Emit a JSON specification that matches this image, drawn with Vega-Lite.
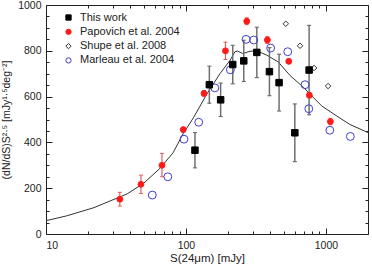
{
  "$schema": "https://vega.github.io/schema/vega-lite/v6.json",
  "width": 322,
  "height": 229,
  "autosize": "none",
  "padding": {"left": 46, "top": 5, "right": 4, "bottom": 30},
  "background": "white",
  "config": {
    "view": {"stroke": "#222", "strokeWidth": 1},
    "font": "Liberation Sans",
    "axis": {"grid": false, "domain": false, "labelColor": "#222", "titleColor": "#222", "tickColor": "#222", "titleFontWeight": "normal", "labelFont": "Liberation Sans", "titleFont": "Liberation Sans"},
    "legend": {"orient": "none", "legendX": 17, "legendY": 7, "title": null, "labelFontSize": 11, "labelColor": "#222", "symbolSize": 28, "rowPadding": 2.3, "labelOffset": 6, "padding": 0, "symbolStrokeWidth": 1}
  },
  "datasets": {
    "model": [
      {"s": 10, "n": 58}, {"s": 14, "n": 79}, {"s": 22, "n": 115}, {"s": 38, "n": 175},
      {"s": 50, "n": 222}, {"s": 65, "n": 286}, {"s": 81, "n": 355}, {"s": 96, "n": 441},
      {"s": 113, "n": 507}, {"s": 141, "n": 611}, {"s": 175, "n": 700}, {"s": 207, "n": 759},
      {"s": 224, "n": 796}, {"s": 233, "n": 799}, {"s": 255, "n": 788}, {"s": 287, "n": 798},
      {"s": 320, "n": 800}, {"s": 378, "n": 781}, {"s": 457, "n": 751}, {"s": 555, "n": 692},
      {"s": 690, "n": 641}, {"s": 792, "n": 603}, {"s": 935, "n": 559}, {"s": 1197, "n": 515},
      {"s": 1489, "n": 478}, {"s": 2000, "n": 443}
    ],
    "counts": [
      {"series": "This work", "s": 116, "n": 366, "lo": 289, "hi": 443},
      {"series": "This work", "s": 147, "n": 652, "lo": 571, "hi": 733},
      {"series": "This work", "s": 177, "n": 586, "lo": 513, "hi": 659},
      {"series": "This work", "s": 216, "n": 740, "lo": 656, "hi": 824},
      {"series": "This work", "s": 259, "n": 756, "lo": 666, "hi": 846},
      {"series": "This work", "s": 321, "n": 793, "lo": 683, "hi": 903},
      {"series": "This work", "s": 395, "n": 709, "lo": 604, "hi": 814},
      {"series": "This work", "s": 463, "n": 661, "lo": 537, "hi": 785},
      {"series": "This work", "s": 600, "n": 442, "lo": 316, "hi": 568},
      {"series": "This work", "s": 759, "n": 716, "lo": 521, "hi": 911},
      {"series": "Papovich et al. 2004", "s": 33.7, "n": 152, "lo": 122, "hi": 182},
      {"series": "Papovich et al. 2004", "s": 47.7, "n": 217, "lo": 177, "hi": 257},
      {"series": "Papovich et al. 2004", "s": 67.4, "n": 300, "lo": 250, "hi": 352},
      {"series": "Papovich et al. 2004", "s": 95.7, "n": 456, "lo": 446, "hi": 466},
      {"series": "Papovich et al. 2004", "s": 134.6, "n": 614, "lo": 602, "hi": 626},
      {"series": "Papovich et al. 2004", "s": 191.6, "n": 800, "lo": 762, "hi": 838},
      {"series": "Papovich et al. 2004", "s": 272, "n": 929, "lo": 914, "hi": 944},
      {"series": "Papovich et al. 2004", "s": 382, "n": 847, "lo": 832, "hi": 862},
      {"series": "Papovich et al. 2004", "s": 543, "n": 754, "lo": 744, "hi": 764},
      {"series": "Papovich et al. 2004", "s": 762, "n": 606, "lo": 594, "hi": 618},
      {"series": "Papovich et al. 2004", "s": 1077, "n": 491, "lo": 477, "hi": 505},
      {"series": "Shupe et al. 2008", "s": 517, "n": 918},
      {"series": "Shupe et al. 2008", "s": 654, "n": 822},
      {"series": "Shupe et al. 2008", "s": 824, "n": 725},
      {"series": "Shupe et al. 2008", "s": 1037, "n": 646},
      {"series": "Marleau et al. 2004", "s": 57.5, "n": 170},
      {"series": "Marleau et al. 2004", "s": 74.2, "n": 250},
      {"series": "Marleau et al. 2004", "s": 96.9, "n": 414},
      {"series": "Marleau et al. 2004", "s": 123.4, "n": 488},
      {"series": "Marleau et al. 2004", "s": 161, "n": 638},
      {"series": "Marleau et al. 2004", "s": 207.7, "n": 717},
      {"series": "Marleau et al. 2004", "s": 269, "n": 850},
      {"series": "Marleau et al. 2004", "s": 305, "n": 847},
      {"series": "Marleau et al. 2004", "s": 403, "n": 812},
      {"series": "Marleau et al. 2004", "s": 534, "n": 796},
      {"series": "Marleau et al. 2004", "s": 710, "n": 652},
      {"series": "Marleau et al. 2004", "s": 755, "n": 547},
      {"series": "Marleau et al. 2004", "s": 1067, "n": 453},
      {"series": "Marleau et al. 2004", "s": 1496, "n": 426}
    ]
  },
  "resolve": {"axis": {"x": "independent", "y": "independent"}},
  "layer": [
    {
      "description": "model curve, with the labelled bottom and left axes",
      "data": {"name": "model"},
      "mark": {"type": "line", "color": "#333", "strokeWidth": 1},
      "encoding": {
        "x": {"field": "s", "type": "quantitative", "scale": {"type": "log", "domain": [10, 2000], "nice": false},
          "axis": {"orient": "bottom", "values": [10, 100, 1000], "format": "d", "ticks": false, "labelPadding": 6, "labelFontSize": 10.5, "title": "S(24μm) [mJy]", "titleFontSize": 11.5, "titlePadding": 2}},
        "y": {"field": "n", "type": "quantitative", "scale": {"domain": [0, 1000], "nice": false, "zero": false},
          "axis": {"orient": "left", "values": [0, 200, 400, 600, 800, 1000], "format": "d", "ticks": false, "labelPadding": 5, "labelFontSize": 10.5, "title": "(dN/dS)S²·⁵ [mJy¹·⁵deg⁻²]", "titleFontSize": 10.5, "titlePadding": 6}}
      }
    },
    {
      "description": "error bars, this work; carries the major ticks on the bottom and left",
      "data": {"name": "counts"},
      "transform": [{"filter": {"field": "series", "equal": "This work"}}],
      "mark": {"type": "rule", "color": "#707070", "strokeWidth": 1.5},
      "encoding": {
        "x": {"field": "s", "type": "quantitative", "axis": {"orient": "bottom", "values": [10, 100, 1000], "labels": false, "tickSize": -6, "title": null}},
        "y": {"field": "lo", "type": "quantitative", "axis": {"orient": "left", "values": [0, 200, 400, 600, 800, 1000], "labels": false, "tickSize": -6, "title": null}},
        "y2": {"field": "hi"}
      }
    },
    {
      "description": "error bars, Papovich et al.; carries the minor ticks on the bottom and left",
      "data": {"name": "counts"},
      "transform": [{"filter": {"field": "series", "equal": "Papovich et al. 2004"}}],
      "mark": {"type": "rule", "color": "#e65c5c", "strokeWidth": 1.2},
      "encoding": {
        "x": {"field": "s", "type": "quantitative", "axis": {"orient": "bottom", "values": [20, 30, 40, 50, 60, 70, 80, 90, 200, 300, 400, 500, 600, 700, 800, 900, 2000], "labels": false, "tickSize": -3, "title": null}},
        "y": {"field": "lo", "type": "quantitative", "axis": {"orient": "left", "values": [50, 100, 150, 250, 300, 350, 450, 500, 550, 650, 700, 750, 850, 900, 950], "labels": false, "tickSize": -3, "title": null}},
        "y2": {"field": "hi"}
      }
    },
    {
      "description": "upper caps, this work; carries the major ticks on the top and right",
      "data": {"name": "counts"},
      "transform": [{"filter": {"field": "series", "equal": "This work"}}],
      "mark": {"type": "tick", "orient": "horizontal", "size": 4, "thickness": 1.2, "color": "#707070", "opacity": 1},
      "encoding": {
        "x": {"field": "s", "type": "quantitative", "axis": {"orient": "top", "values": [10, 100, 1000], "labels": false, "tickSize": -6, "title": null}},
        "y": {"field": "hi", "type": "quantitative", "axis": {"orient": "right", "values": [0, 200, 400, 600, 800, 1000], "labels": false, "tickSize": -6, "title": null}}
      }
    },
    {
      "description": "lower caps, this work; carries the minor ticks on the top and right",
      "data": {"name": "counts"},
      "transform": [{"filter": {"field": "series", "equal": "This work"}}],
      "mark": {"type": "tick", "orient": "horizontal", "size": 4, "thickness": 1.2, "color": "#707070", "opacity": 1},
      "encoding": {
        "x": {"field": "s", "type": "quantitative", "axis": {"orient": "top", "values": [20, 30, 40, 50, 60, 70, 80, 90, 200, 300, 400, 500, 600, 700, 800, 900, 2000], "labels": false, "tickSize": -3, "title": null}},
        "y": {"field": "lo", "type": "quantitative", "axis": {"orient": "right", "values": [50, 100, 150, 250, 300, 350, 450, 500, 550, 650, 700, 750, 850, 900, 950], "labels": false, "tickSize": -3, "title": null}}
      }
    },
    {
      "description": "upper caps, Papovich et al.",
      "data": {"name": "counts"},
      "transform": [{"filter": {"field": "series", "equal": "Papovich et al. 2004"}}],
      "mark": {"type": "tick", "orient": "horizontal", "size": 4, "thickness": 1, "color": "#e65c5c", "opacity": 1},
      "encoding": {
        "x": {"field": "s", "type": "quantitative", "axis": null},
        "y": {"field": "hi", "type": "quantitative", "axis": null}
      }
    },
    {
      "description": "lower caps, Papovich et al.",
      "data": {"name": "counts"},
      "transform": [{"filter": {"field": "series", "equal": "Papovich et al. 2004"}}],
      "mark": {"type": "tick", "orient": "horizontal", "size": 4, "thickness": 1, "color": "#e65c5c", "opacity": 1},
      "encoding": {
        "x": {"field": "s", "type": "quantitative", "axis": null},
        "y": {"field": "lo", "type": "quantitative", "axis": null}
      }
    },
    {
      "description": "one layer of points per sample, so each keeps its own symbol size; the shared scales give one legend",
      "data": {"name": "counts"},
      "layer": [
        {"transform": [{"filter": {"field": "series", "equal": "Marleau et al. 2004"}}], "mark": {"type": "point", "opacity": 1, "strokeWidth": 1, "size": 62}},
        {"transform": [{"filter": {"field": "series", "equal": "Shupe et al. 2008"}}], "mark": {"type": "point", "opacity": 1, "strokeWidth": 1, "size": 30}},
        {"transform": [{"filter": {"field": "series", "equal": "Papovich et al. 2004"}}], "mark": {"type": "point", "opacity": 1, "strokeWidth": 1, "size": 34}},
        {"transform": [{"filter": {"field": "series", "equal": "This work"}}], "mark": {"type": "point", "opacity": 1, "strokeWidth": 1, "size": 42}}
      ],
      "encoding": {
        "x": {"field": "s", "type": "quantitative", "axis": null},
        "y": {"field": "n", "type": "quantitative", "axis": null},
        "shape": {"field": "series", "type": "nominal",
          "scale": {"domain": ["This work", "Papovich et al. 2004", "Shupe et al. 2008", "Marleau et al. 2004"], "range": ["square", "circle", "diamond", "circle"]},
          "legend": {"symbolSize": 28, "encode": {"symbols": {"update": {"size": {"value": 28}, "strokeWidth": {"value": 1}}}}}},
        "fill": {"field": "series", "type": "nominal",
          "scale": {"domain": ["This work", "Papovich et al. 2004", "Shupe et al. 2008", "Marleau et al. 2004"], "range": ["#000000", "#ff1a1a", "transparent", "transparent"]},
          "legend": {"symbolSize": 28, "encode": {"symbols": {"update": {"size": {"value": 28}, "strokeWidth": {"value": 1}}}}}},
        "stroke": {"field": "series", "type": "nominal",
          "scale": {"domain": ["This work", "Papovich et al. 2004", "Shupe et al. 2008", "Marleau et al. 2004"], "range": ["#000000", "#ff1a1a", "#333333", "#3f3fcc"]},
          "legend": {"symbolSize": 28, "encode": {"symbols": {"update": {"size": {"value": 28}, "strokeWidth": {"value": 1}}}}}}
      }
    }
  ]
}
